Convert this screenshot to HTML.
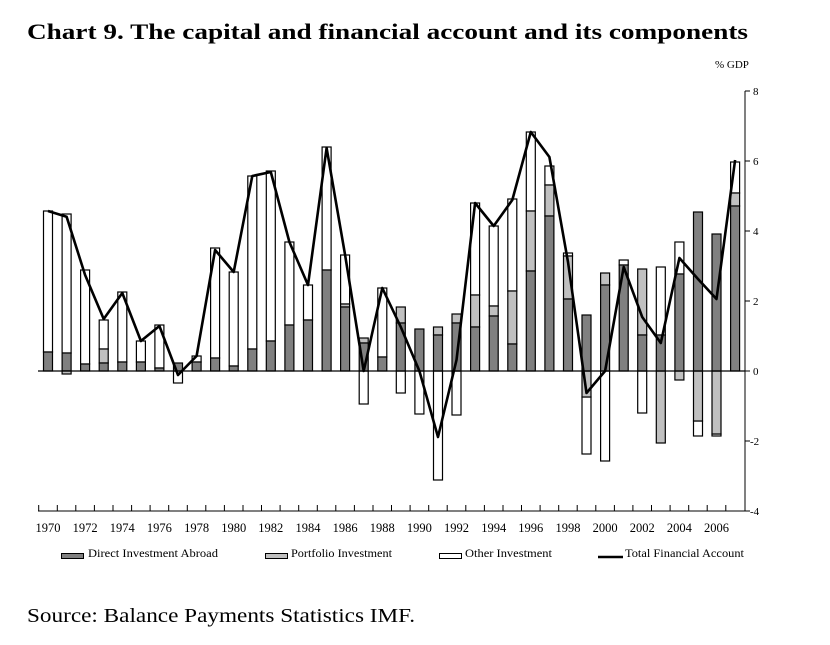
<!DOCTYPE html>
<html><head><meta charset="utf-8"><style>
html,body{margin:0;padding:0;background:#fff;}
svg{display:block;font-family:"Liberation Serif",serif;}
</style></head><body>
<svg width="830" height="645" viewBox="0 0 830 645" xmlns="http://www.w3.org/2000/svg">
<text x="27" y="39" font-size="22" font-weight="bold" fill="#000" textLength="721" lengthAdjust="spacingAndGlyphs">Chart 9. The capital and financial account and its components</text>
<text x="715" y="68" font-size="11">% GDP</text>
<g stroke="#000" stroke-width="1.2">
<rect x="43.5" y="211" width="9" height="141" fill="#fff"/><rect x="43.5" y="352" width="9" height="19" fill="#808080"/>
<rect x="62.1" y="214" width="9" height="139" fill="#fff"/><rect x="62.1" y="353" width="9" height="18" fill="#808080"/><rect x="62.1" y="371" width="9" height="3" fill="#c0c0c0"/>
<rect x="80.6" y="270" width="9" height="94" fill="#fff"/><rect x="80.6" y="364" width="9" height="7" fill="#808080"/>
<rect x="99.2" y="320" width="9" height="29" fill="#fff"/><rect x="99.2" y="349" width="9" height="14" fill="#c0c0c0"/><rect x="99.2" y="363" width="9" height="8" fill="#808080"/>
<rect x="117.8" y="292" width="9" height="70" fill="#fff"/><rect x="117.8" y="362" width="9" height="9" fill="#808080"/>
<rect x="136.4" y="341" width="9" height="21" fill="#fff"/><rect x="136.4" y="362" width="9" height="9" fill="#808080"/>
<rect x="154.9" y="325" width="9" height="43" fill="#fff"/><rect x="154.9" y="368" width="9" height="3" fill="#808080"/>
<rect x="173.5" y="371" width="9" height="12" fill="#fff"/><rect x="173.5" y="363" width="9" height="8" fill="#808080"/>
<rect x="192.1" y="356" width="9" height="6" fill="#fff"/><rect x="192.1" y="362" width="9" height="9" fill="#808080"/>
<rect x="210.6" y="248" width="9" height="110" fill="#fff"/><rect x="210.6" y="358" width="9" height="13" fill="#808080"/>
<rect x="229.2" y="272" width="9" height="94" fill="#fff"/><rect x="229.2" y="366" width="9" height="5" fill="#808080"/>
<rect x="247.8" y="176" width="9" height="173" fill="#fff"/><rect x="247.8" y="349" width="9" height="22" fill="#808080"/>
<rect x="266.3" y="171" width="9" height="170" fill="#fff"/><rect x="266.3" y="341" width="9" height="30" fill="#808080"/>
<rect x="284.9" y="242" width="9" height="83" fill="#fff"/><rect x="284.9" y="325" width="9" height="46" fill="#808080"/>
<rect x="303.5" y="285" width="9" height="35" fill="#fff"/><rect x="303.5" y="320" width="9" height="51" fill="#808080"/>
<rect x="322.1" y="147" width="9" height="123" fill="#fff"/><rect x="322.1" y="270" width="9" height="101" fill="#808080"/>
<rect x="340.6" y="255" width="9" height="49" fill="#fff"/><rect x="340.6" y="304" width="9" height="3" fill="#c0c0c0"/><rect x="340.6" y="307" width="9" height="64" fill="#808080"/>
<rect x="359.2" y="371" width="9" height="33" fill="#fff"/><rect x="359.2" y="338" width="9" height="5" fill="#c0c0c0"/><rect x="359.2" y="343" width="9" height="28" fill="#808080"/>
<rect x="377.8" y="288" width="9" height="69" fill="#fff"/><rect x="377.8" y="357" width="9" height="14" fill="#808080"/>
<rect x="396.3" y="371" width="9" height="22" fill="#fff"/><rect x="396.3" y="307" width="9" height="16" fill="#c0c0c0"/><rect x="396.3" y="323" width="9" height="48" fill="#808080"/>
<rect x="414.9" y="371" width="9" height="43" fill="#fff"/><rect x="414.9" y="329" width="9" height="42" fill="#808080"/>
<rect x="433.5" y="371" width="9" height="109" fill="#fff"/><rect x="433.5" y="327" width="9" height="8" fill="#c0c0c0"/><rect x="433.5" y="335" width="9" height="36" fill="#808080"/>
<rect x="452" y="371" width="9" height="44" fill="#fff"/><rect x="452" y="314" width="9" height="9" fill="#c0c0c0"/><rect x="452" y="323" width="9" height="48" fill="#808080"/>
<rect x="470.6" y="203" width="9" height="92" fill="#fff"/><rect x="470.6" y="295" width="9" height="32" fill="#c0c0c0"/><rect x="470.6" y="327" width="9" height="44" fill="#808080"/>
<rect x="489.2" y="226" width="9" height="80" fill="#fff"/><rect x="489.2" y="306" width="9" height="10" fill="#c0c0c0"/><rect x="489.2" y="316" width="9" height="55" fill="#808080"/>
<rect x="507.8" y="199" width="9" height="92" fill="#fff"/><rect x="507.8" y="291" width="9" height="53" fill="#c0c0c0"/><rect x="507.8" y="344" width="9" height="27" fill="#808080"/>
<rect x="526.3" y="132" width="9" height="79" fill="#fff"/><rect x="526.3" y="211" width="9" height="60" fill="#c0c0c0"/><rect x="526.3" y="271" width="9" height="100" fill="#808080"/>
<rect x="544.9" y="166" width="9" height="19" fill="#fff"/><rect x="544.9" y="185" width="9" height="31" fill="#c0c0c0"/><rect x="544.9" y="216" width="9" height="155" fill="#808080"/>
<rect x="563.5" y="253" width="9" height="3" fill="#fff"/><rect x="563.5" y="256" width="9" height="43" fill="#c0c0c0"/><rect x="563.5" y="299" width="9" height="72" fill="#808080"/>
<rect x="582" y="397" width="9" height="57" fill="#fff"/><rect x="582" y="371" width="9" height="26" fill="#c0c0c0"/><rect x="582" y="315" width="9" height="56" fill="#808080"/>
<rect x="600.6" y="371" width="9" height="90" fill="#fff"/><rect x="600.6" y="273" width="9" height="12" fill="#c0c0c0"/><rect x="600.6" y="285" width="9" height="86" fill="#808080"/>
<rect x="619.2" y="260" width="9" height="5" fill="#fff"/><rect x="619.2" y="265" width="9" height="106" fill="#808080"/>
<rect x="637.7" y="371" width="9" height="42" fill="#fff"/><rect x="637.7" y="269" width="9" height="66" fill="#c0c0c0"/><rect x="637.7" y="335" width="9" height="36" fill="#808080"/>
<rect x="656.3" y="267" width="9" height="68" fill="#fff"/><rect x="656.3" y="371" width="9" height="72" fill="#c0c0c0"/><rect x="656.3" y="335" width="9" height="36" fill="#808080"/>
<rect x="674.9" y="242" width="9" height="32" fill="#fff"/><rect x="674.9" y="371" width="9" height="9" fill="#c0c0c0"/><rect x="674.9" y="274" width="9" height="97" fill="#808080"/>
<rect x="693.5" y="421" width="9" height="15" fill="#fff"/><rect x="693.5" y="371" width="9" height="50" fill="#c0c0c0"/><rect x="693.5" y="212" width="9" height="159" fill="#808080"/>
<rect x="712" y="434" width="9" height="2" fill="#fff"/><rect x="712" y="371" width="9" height="63" fill="#c0c0c0"/><rect x="712" y="234" width="9" height="137" fill="#808080"/>
<rect x="730.6" y="162" width="9" height="31" fill="#fff"/><rect x="730.6" y="193" width="9" height="13" fill="#c0c0c0"/><rect x="730.6" y="206" width="9" height="165" fill="#808080"/>
</g>
<line x1="38" y1="371" x2="745" y2="371" stroke="#000" stroke-width="1.2"/>
<polyline fill="none" stroke="#000" stroke-width="2.6" stroke-linejoin="round" points="48,211 66.6,216.7 85.1,275 103.7,319 122.3,293 140.9,341 159.4,326 178,375 196.6,356 215.1,250 233.7,272 252.3,176 270.8,172 289.4,242 308,285 326.6,148 345.1,255 363.7,371 382.3,288 400.8,327 419.4,371 438,437 456.5,360 475.1,203 493.7,226 512.3,200 530.8,132 549.4,157 568,262 586.5,393 605.1,371 623.7,267 642.2,317 660.8,343 679.4,258 698,279 716.5,299 735.1,160"/>
<g stroke="#000" stroke-width="1">
<line x1="745" y1="91" x2="745" y2="511"/>
<line x1="745" y1="91" x2="750" y2="91"/><line x1="745" y1="161" x2="750" y2="161"/><line x1="745" y1="231" x2="750" y2="231"/><line x1="745" y1="301" x2="750" y2="301"/><line x1="745" y1="371" x2="750" y2="371"/><line x1="745" y1="441" x2="750" y2="441"/><line x1="745" y1="511" x2="750" y2="511"/>
<line x1="38" y1="511" x2="745" y2="511"/>
<path d="M38.7 511V505M57.3 511V505M75.8 511V505M94.4 511V505M113 511V505M131.6 511V505M150.1 511V505M168.7 511V505M187.3 511V505M205.8 511V505M224.4 511V505M243 511V505M261.5 511V505M280.1 511V505M298.7 511V505M317.3 511V505M335.8 511V505M354.4 511V505M373 511V505M391.5 511V505M410.1 511V505M428.7 511V505M447.2 511V505M465.8 511V505M484.4 511V505M503 511V505M521.5 511V505M540.1 511V505M558.7 511V505M577.2 511V505M595.8 511V505M614.4 511V505M632.9 511V505M651.5 511V505M670.1 511V505M688.7 511V505M707.2 511V505M725.8 511V505"/>
</g>
<g font-size="11" fill="#000">
<text x="753" y="95">8</text><text x="753" y="165">6</text><text x="753" y="235">4</text><text x="753" y="305">2</text><text x="753" y="375">0</text><text x="750" y="445">-2</text><text x="750" y="515">-4</text>
</g>
<g font-size="12.5" fill="#000" text-anchor="middle">
<text x="48" y="532">1970</text><text x="85.1" y="532">1972</text><text x="122.3" y="532">1974</text><text x="159.4" y="532">1976</text><text x="196.6" y="532">1978</text><text x="233.7" y="532">1980</text><text x="270.8" y="532">1982</text><text x="308" y="532">1984</text><text x="345.1" y="532">1986</text><text x="382.3" y="532">1988</text><text x="419.4" y="532">1990</text><text x="456.5" y="532">1992</text><text x="493.7" y="532">1994</text><text x="530.8" y="532">1996</text><text x="568" y="532">1998</text><text x="605.1" y="532">2000</text><text x="642.2" y="532">2002</text><text x="679.4" y="532">2004</text><text x="716.5" y="532">2006</text>
</g>
<g stroke="#000" stroke-width="1">
<rect x="61.5" y="553.5" width="22" height="5" fill="#808080"/>
<rect x="265.5" y="553.5" width="22" height="5" fill="#c0c0c0"/>
<rect x="439.5" y="553.5" width="22" height="5" fill="#fff"/>
<line x1="598" y1="557" x2="623" y2="557" stroke-width="2.6"/>
</g>
<g font-size="11.5" fill="#000">
<text x="88" y="557" textLength="130" lengthAdjust="spacingAndGlyphs">Direct Investment Abroad</text>
<text x="291" y="557" textLength="101" lengthAdjust="spacingAndGlyphs">Portfolio Investment</text>
<text x="465" y="557" textLength="87" lengthAdjust="spacingAndGlyphs">Other Investment</text>
<text x="625" y="557" textLength="119" lengthAdjust="spacingAndGlyphs">Total Financial Account</text>
</g>
<text x="27" y="622" font-size="20" fill="#000" textLength="388" lengthAdjust="spacingAndGlyphs">Source: Balance Payments Statistics IMF.</text>
</svg>
</body></html>
